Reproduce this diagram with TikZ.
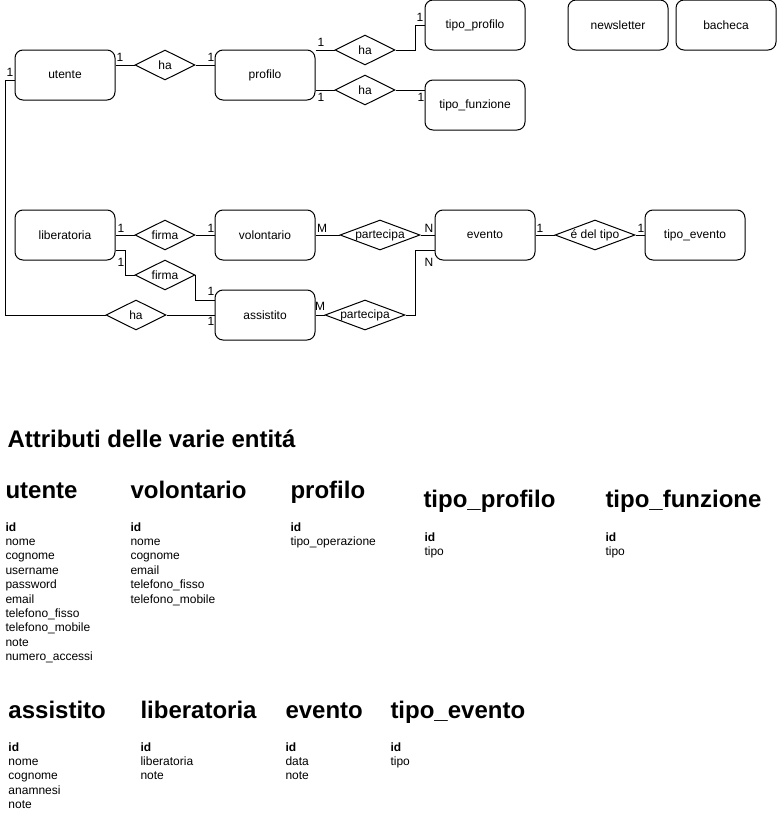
\documentclass[tikz,border=0pt]{standalone}
\usepackage{fontspec}
\setmainfont{Liberation Sans}
\usetikzlibrary{shapes.geometric}

\newcommand{\diafont}{\fontsize{9}{10.8}\selectfont}
\newcommand{\headfont}{\fontsize{18}{21.6}\selectfont\bfseries}
\newcommand{\attrlist}[1]{\begin{tabular}[t]{@{}l@{}}#1\end{tabular}}

\tikzset{
  entity/.style={draw, rounded corners=6pt, minimum width=75pt, minimum height=37.5pt, inner sep=0pt, font=\diafont},
  relation/.style={draw, diamond, inner sep=0pt, minimum width=#1, minimum height=22.5pt},
  relation/.default=45pt,
  card/.style={inner sep=0pt, font=\diafont},
  head/.style={anchor=base west, inner sep=0pt, font=\headfont},
  attr/.style={anchor=base west, inner sep=0pt, font=\diafont},
  rtext/.style={inner sep=0pt, font=\diafont}
}

\begin{document}
\begin{tikzpicture}[x=0.75pt, y=-0.75pt, line width=0.75pt]

    \useasboundingbox (0,0) rectangle (776,821);

    % Entities
    \node[entity] (utente) at (65,75) {utente};
    \node[entity] (profilo) at (265,75) {profilo};
    \node[entity] (tprofilo) at (475,25) {tipo\_profilo};
    \node[entity] (tfunzione) at (475,105) {tipo\_funzione};
    \node[entity] (newsletter) at (618,25) {newsletter};
    \node[entity] (bacheca) at (726,25) {bacheca};
    \node[entity] (liberatoria) at (65,235) {liberatoria};
    \node[entity] (volontario) at (265,235) {volontario};
    \node[entity] (evento) at (485,235) {evento};
    \node[entity] (tevento) at (695,235) {tipo\_evento};
    \node[entity] (assistito) at (265,315) {assistito};

    % Relations
    \node[relation] (haUP) at (165,65) {};
    \node[rtext] at (haUP) {ha};
    \node[relation] (haPT) at (365,50) {};
    \node[rtext] at (haPT) {ha};
    \node[relation] (haPF) at (365,90) {};
    \node[rtext] at (haPF) {ha};
    \node[relation] (firmaV) at (165,235) {};
    \node[rtext] at (firmaV) {firma};
    \node[relation] (firmaA) at (165,275) {};
    \node[rtext] at (firmaA) {firma};
    \node[relation] (haUA) at (136,315) {};
    \node[rtext] at (haUA) {ha};
    \node[relation=60pt] (partV) at (380,235) {};
    \node[rtext] at (partV) {partecipa};
    \node[relation=60pt] (partA) at (365,315) {};
    \node[rtext] at (partA) {partecipa};
    \node[relation=60pt] (tipoE) at (595,235) {};
    \node[rtext] at (tipoE) {é del tipo};

    % Connectors
    \draw (haUP.west -| utente.east) -- (haUP.west);
    \draw (haUP.east) -- (haUP.east -| profilo.west);
    \draw (haPT.west -| profilo.east) -- (haPT.west);
    \draw (haPT.east) -- ++(20,0) |- (tprofilo.west);
    \draw (haPF.west -| profilo.east) -- (haPF.west);
    \draw (haPF.east) -- (haPF.east -| tfunzione.west);
    \coordinate (ucorner) at (5,315);
    \draw ([yshift=-3.75pt]utente.west) -| (ucorner) -- (haUA.west);
    \draw (haUA.east) -- (haUA.east -| assistito.west);
    \draw (liberatoria.east) -- (firmaV.west);
    \draw (firmaV.east) -- (volontario.west);
    \draw ([yshift=-11.25pt]liberatoria.east) -- ++(10,0) |- (firmaA.west);
    \draw (firmaA.east) |- ([yshift=11.25pt]assistito.west);
    \draw (volontario.east) -- (partV.west);
    \draw (partV.east) -- (evento.west);
    \draw (assistito.east) -- (partA.west);
    \draw (partA.east) -- ++(10,0) |- ([yshift=-11.25pt]evento.west);
    \draw (evento.east) -- (tipoE.west);
    \draw (tipoE.east) -- (tevento.west);

    % Cardinalities
    \node[card] (c1) at (120,57) {1};
    \node[card] (c2) at (211,57) {1};
    \node[card] (c3) at (10,72) {1};
    \node[card] (c4) at (321,42) {1};
    \node[card] (c5) at (420,17) {1};
    \node[card] (c6) at (321,97) {1};
    \node[card] (c7) at (421,97) {1};
    \node[card] (c8) at (121,228) {1};
    \node[card] (c9) at (211,228) {1};
    \node[card] (c10) at (322,228) {M};
    \node[card] (c11) at (429,228) {N};
    \node[card] (c12) at (429,262) {N};
    \node[card] (c13) at (540,228) {1};
    \node[card] (c14) at (641,228) {1};
    \node[card] (c15) at (121,262) {1};
    \node[card] (c16) at (211,291) {1};
    \node[card] (c17) at (211,321) {1};
    \node[card] (c18) at (320,306) {M};

    % Attributes
    \node[head] (titolo) at (7,447) {Attributi delle varie entitá};

    \node[head] (hUtente) at (5,498) {utente};
    \node[attr] (aUtente) at (5,531) {\attrlist{\textbf{id}\\nome\\cognome\\username\\password\\email\\telefono\_fisso\\telefono\_mobile\\note\\numero\_accessi}};
    \node[head] (hVolontario) at (130,498) {volontario};
    \node[attr] (aVolontario) at (130,531) {\attrlist{\textbf{id}\\nome\\cognome\\email\\telefono\_fisso\\telefono\_mobile}};
    \node[head] (hProfilo) at (290,498) {profilo};
    \node[attr] (aProfilo) at (290,531) {\attrlist{\textbf{id}\\tipo\_operazione}};
    \node[head] (hTprofilo) at (423,507) {tipo\_profilo};
    \node[attr] (aTprofilo) at (424,541) {\attrlist{\textbf{id}\\tipo}};
    \node[head] (hTfunzione) at (605,507) {tipo\_funzione};
    \node[attr] (aTfunzione) at (605,541) {\attrlist{\textbf{id}\\tipo}};

    \node[head] (hAssistito) at (8,718) {assistito};
    \node[attr] (aAssistito) at (8,751) {\attrlist{\textbf{id}\\nome\\cognome\\anamnesi\\note}};
    \node[head] (hLiberatoria) at (140,718) {liberatoria};
    \node[attr] (aLiberatoria) at (140,751) {\attrlist{\textbf{id}\\liberatoria\\note}};
    \node[head] (hEvento) at (285,718) {evento};
    \node[attr] (aEvento) at (285,751) {\attrlist{\textbf{id}\\data\\note}};
    \node[head] (hTevento) at (390,718) {tipo\_evento};
    \node[attr] (aTevento) at (390,751) {\attrlist{\textbf{id}\\tipo}};

\end{tikzpicture}
\end{document}
